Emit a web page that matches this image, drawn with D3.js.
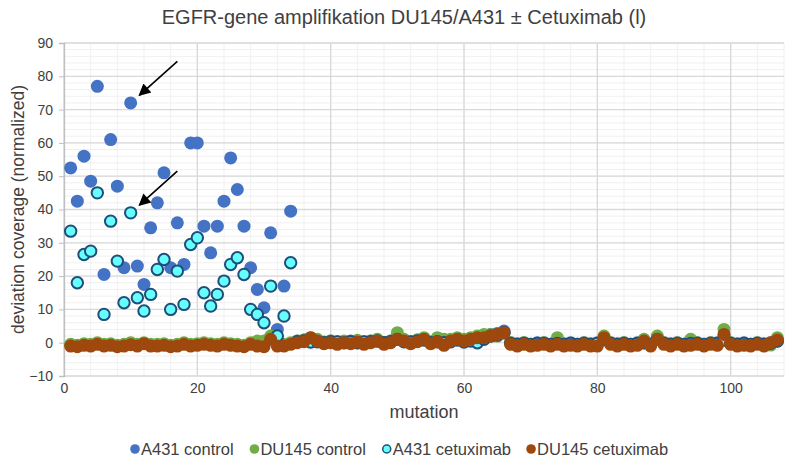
<!DOCTYPE html>
<html>
<head>
<meta charset="utf-8">
<script src="https://cdn.jsdelivr.net/npm/d3@7"></script>
<style>
  body { margin: 0; background: #fff; }
  text { font-family: "Liberation Sans", Arial, sans-serif; fill: #404040; }
</style>
</head>
<body>
<svg id="chart"></svg>
<script>
let width = 800
let height = 469

let margin = { top: 43, left: 64, right: 16, bottom: 93 }

let title = 'EGFR-gene amplifikation DU145/A431 ± Cetuximab (l)'
let seriesNames = ['A431 control', 'DU145 control', 'A431 cetuximab', 'DU145 cetuximab']

let xTicks = [0, 20, 40, 60, 80, 100]
let yTicks = [-10, 0, 10, 20, 30, 40, 50, 60, 70, 80, 90]

// mutation 1..107
let a431Control = [
  52.5, 42.5, 56, 48.5, 77, 20.5, 61, 47, 22.5, 72,
  23, 17.5, 34.5, 42, 51, 22.5, 36, 23.5, 60, 60,
  35, 27, 35, 42.5, 55.5, 46, 35, 22.5, 16, 10.5,
  33, 4, 17, 39.5,
  0.5, 0.8, 0.3, 0.5, 0, 0.5, 0.3, 0.2, 0.5, 0, 0.3, 0.5, 0.8, 0, 0.5, 1.5,
  0.5, 0.3, 0.8, 1, 0.2, 0.5, 0, 0.5, 1, 0.5, 0.8, 1.5, 1.5, 2.5, 2.8, 3.5,
  0, -0.3, 0, -0.5, 0, 0, -0.5, 0, -0.3, 0, -0.5, 0, -0.3, 0, 1, 0, -0.3, 0, -0.5, 0,
  0, -0.5, 1, 0, -0.3, 0, -0.5, 0, 0, -0.5, 0, 0, 2, 0, -0.3, 0, -0.5, 0, -0.3, 0, 0.5
]

let du145Control = [
  -0.5, -0.8, -0.3, -0.5, 0, -0.5, -0.3, -0.8, -0.5, 0,
  -0.5, 0, -0.5, -0.5, -0.3, -0.8, -0.5, 0, -0.5, -0.3,
  0, -0.3, -0.5, 0, -0.3, -0.5, -0.8, 0, 0.5, 0.5,
  2, -0.5, -0.5, 0,
  0.5, 0.8, 1.5, 1, 0.2, 0.5, 0, 0.5, 0.2, 0.7, 0, 0.5, 1, 0, 0.5, 3,
  1, 0.2, 0.8, 1.5, 0.2, 1.5, 1, 1, 1.5, 1, 1.5, 2, 2.5, 2.5, 2, 3,
  0, -0.5, 0, -0.5, -0.3, 0, -0.5, 1.5, -0.5, -0.3, -0.5, 0, -0.5, -0.5, 2, 0, -0.5, 0, -0.5, -0.3,
  1, -0.5, 2, 0, -0.5, 0, -0.5, 1, 0, -0.5, 0, -0.3, 4, 0, -0.5, -0.3, -0.5, 0, -0.5, -0.7, 1.5
]

let a431Cetuximab = [
  33.5, 18, 26.5, 27.5, 45, 8.5, 36.5, 24.5, 12, 39,
  13.5, 9.5, 14.5, 22, 25, 10, 21.5, 11.5, 29.5, 31.5,
  15, 11, 14.5, 18.5, 23.5, 25.5, 20.5, 10, 8.5, 6,
  17, 2, 8, 24,
  0.3, 0.5, 0.2, 0.3, 0, 0.3, 0.2, 0, 0.3, 0, 0.2, 0.3, 0.5, 0, 0.3, 1,
  0.3, 0.2, 0.5, 0.8, 0, 0.3, 0, 0.3, 0.8, 0.2, 0.5, 0, 1, 2, 2.3, 3,
  -0.2, -0.5, -0.2, -0.5, -0.2, -0.2, -0.5, -0.2, -0.5, -0.2, -0.5, -0.2, -0.5, -0.2, 1, -0.2, -0.5, -0.2, -0.5, -0.2,
  0, -0.5, 1, -0.2, -0.5, -0.2, -0.5, -0.2, -0.2, -0.5, -0.2, -0.2, 0.8, -0.2, -0.5, -0.2, -0.5, -0.2, -0.5, -0.2, 0.5
]

let du145Cetuximab = [
  -1, -1.2, -0.8, -1, -0.5, -1, -0.8, -1.2, -1, -0.6,
  -1, -0.3, -1, -1, -0.8, -1.2, -1, -0.5, -1, -0.8,
  -0.5, -0.8, -1, -0.5, -0.8, -1, -1.2, -0.5, -1, -1.2,
  1, -1, -1, -0.5,
  0, 0.3, 1.5, 0.5, -0.3, 0, -0.5, 0, -0.3, 0.2, -0.5, 0, 0.5, -0.5, 0, 1,
  0.5, -0.3, 0.3, 1, -0.3, 0.3, -0.8, 0.5, 1, 0.5, 1, 1.5, 1.5, 2, 2.5, 3,
  -0.5, -1, -0.5, -1, -0.8, -0.5, -1, -0.5, -1, -0.8, -1, -0.5, -1, -1, 1.5, -0.5, -1, -0.5, -1, -0.8,
  0.5, -1, 1, -0.5, -1, -0.5, -1, -0.8, -0.5, -1, -0.5, -0.8, 2.5, -0.5, -1, -0.8, -1, -0.5, -1, 0, 0.8
]

// arrow annotations in data units: [x1, y1, x2, y2]
let arrows = [
  [17, 84.5, 11.3, 74.3],
  [17, 51.5, 11.3, 41.3]
]

let series = [
  { name: seriesNames[0], values: a431Control, fill: '#4472C4', stroke: 'none' },
  { name: seriesNames[1], values: du145Control, fill: '#70AD47', stroke: 'none' },
  { name: seriesNames[2], values: a431Cetuximab, fill: '#66FFFF', stroke: '#1F4E79' },
  { name: seriesNames[3], values: du145Cetuximab, fill: '#9E480E', stroke: 'none' }
]

let svg = d3.select('#chart')
  .attr('width', width)
  .attr('height', height)

let xScale = d3.scaleLinear()
  .domain([0, 108])
  .range([margin.left, width - margin.right])

let yScale = d3.scaleLinear()
  .domain([-10, 90])
  .range([height - margin.bottom, margin.top])

let grid = svg.append('g')

// minor gridlines
grid.selectAll('.vminor')
  .data(d3.range(0, 109, 4))
  .enter()
  .append('line')
  .attr('x1', d => xScale(d))
  .attr('x2', d => xScale(d))
  .attr('y1', yScale(-10))
  .attr('y2', yScale(90))
  .attr('stroke', '#f0f0f0')
  .attr('stroke-width', 1)

grid.selectAll('.hminor')
  .data(d3.range(-10, 91, 2))
  .enter()
  .append('line')
  .attr('x1', xScale(0))
  .attr('x2', xScale(108))
  .attr('y1', d => yScale(d))
  .attr('y2', d => yScale(d))
  .attr('stroke', '#f0f0f0')
  .attr('stroke-width', 1)

// major gridlines
grid.selectAll('.vmajor')
  .data(xTicks)
  .enter()
  .append('line')
  .attr('x1', d => xScale(d))
  .attr('x2', d => xScale(d))
  .attr('y1', yScale(-10))
  .attr('y2', yScale(90))
  .attr('stroke', '#d9d9d9')
  .attr('stroke-width', 1.3)

grid.selectAll('.hmajor')
  .data(yTicks)
  .enter()
  .append('line')
  .attr('x1', xScale(0))
  .attr('x2', xScale(108))
  .attr('y1', d => yScale(d))
  .attr('y2', d => yScale(d))
  .attr('stroke', '#d9d9d9')
  .attr('stroke-width', 1.3)

// left axis
let yAxis = d3.axisLeft(yScale).tickValues(yTicks).tickSize(5).tickPadding(6)
let yAxisG = svg.append('g')
  .attr('transform', 'translate(' + xScale(0) + ',0)')
  .call(yAxis)
yAxisG.select('.domain').attr('stroke', '#bfbfbf').attr('stroke-width', 1.3)
yAxisG.selectAll('.tick line').attr('stroke', '#bfbfbf')
yAxisG.selectAll('.tick text')
  .attr('font-size', 14)
  .attr('fill', '#404040')
  .style('font-family', '"Liberation Sans", Arial, sans-serif')

// bottom labels
let xAxis = d3.axisBottom(xScale).tickValues(xTicks).tickSize(0).tickPadding(7)
let xAxisG = svg.append('g')
  .attr('transform', 'translate(0,' + yScale(-10) + ')')
  .call(xAxis)
xAxisG.select('.domain').remove()
xAxisG.selectAll('.tick text')
  .attr('font-size', 14)
  .attr('fill', '#404040')
  .style('font-family', '"Liberation Sans", Arial, sans-serif')

// points
series.forEach(function(s) {
  svg.append('g')
    .selectAll('circle')
    .data(s.values)
    .enter()
    .append('circle')
    .attr('cx', (d, i) => xScale(i + 1))
    .attr('cy', d => yScale(d))
    .attr('r', s.stroke === 'none' ? 6.5 : 5.7)
    .attr('fill', s.fill)
    .attr('stroke', s.stroke)
    .attr('stroke-width', s.stroke === 'none' ? 0 : 2)
})

// arrows
svg.append('defs')
  .append('marker')
  .attr('id', 'head')
  .attr('viewBox', '0 0 10 10')
  .attr('refX', 9)
  .attr('refY', 5)
  .attr('markerWidth', 15)
  .attr('markerHeight', 12)
  .attr('markerUnits', 'userSpaceOnUse')
  .attr('orient', 'auto')
  .append('path')
  .attr('d', 'M0,0 L10,5 L0,10 z')
  .attr('fill', '#000')

svg.selectAll('.arrow')
  .data(arrows)
  .enter()
  .append('line')
  .attr('x1', d => xScale(d[0]))
  .attr('y1', d => yScale(d[1]))
  .attr('x2', d => xScale(d[2]))
  .attr('y2', d => yScale(d[3]))
  .attr('stroke', '#000')
  .attr('stroke-width', 1.6)
  .attr('marker-end', 'url(#head)')

// titles
svg.append('text')
  .attr('x', 404)
  .attr('y', 24)
  .attr('text-anchor', 'middle')
  .attr('font-size', 20)
  .text(title)

svg.append('text')
  .attr('x', (xScale(0) + xScale(108)) / 2)
  .attr('y', 418)
  .attr('text-anchor', 'middle')
  .attr('font-size', 18)
  .text('mutation')

svg.append('text')
  .attr('transform', 'translate(24,' + (yScale(-10) + yScale(90)) / 2 + ') rotate(-90)')
  .attr('text-anchor', 'middle')
  .attr('font-size', 17.5)
  .text('deviation coverage (normalized)')

// legend
let legend = svg.append('g').attr('transform', 'translate(0,449)')
let items = legend.selectAll('g')
  .data(series)
  .enter()
  .append('g')

items.append('circle')
  .attr('r', d => d.stroke === 'none' ? 4.8 : 4)
  .attr('cy', 0)
  .attr('fill', d => d.fill)
  .attr('stroke', d => d.stroke)
  .attr('stroke-width', d => d.stroke === 'none' ? 0 : 1.5)

items.append('text')
  .attr('x', 6)
  .attr('y', 6)
  .attr('font-size', 16.5)
  .text(d => d.name)

let offsets = []
let total = 0
items.each(function() {
  let w = this.getBBox().width
  offsets.push(total)
  total += w + 16
})
total -= 16
let start = 400 - total / 2 + 4
items.attr('transform', (d, i) => 'translate(' + (start + offsets[i]) + ',0)')
</script>
</body>
</html>
